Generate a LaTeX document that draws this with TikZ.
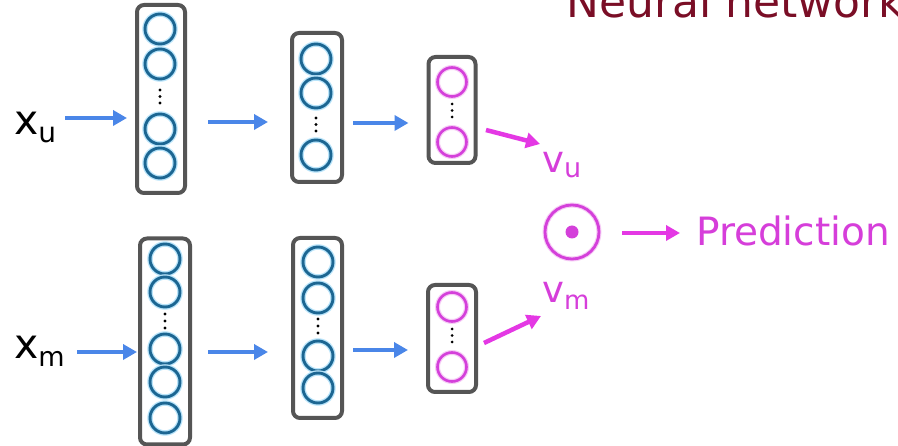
\documentclass[tikz,border=0pt]{standalone}
\usepackage{fontspec}
\setmainfont{DejaVu Sans}
\usetikzlibrary{arrows.meta}
\definecolor{nblue}{RGB}{28,102,146}
\definecolor{nglow}{RGB}{185,228,250}
\definecolor{nmag}{RGB}{212,64,218}
\definecolor{mglow}{RGB}{246,204,246}
\definecolor{abl}{RGB}{74,134,232}
\definecolor{amag}{RGB}{228,56,228}
\definecolor{tmag}{RGB}{214,62,218}
\definecolor{boxg}{RGB}{85,85,85}
\definecolor{tred}{RGB}{122,14,38}
\begin{document}
\begin{tikzpicture}[x=1pt,y=-1pt,
  layerbox/.style={draw=boxg, line width=4pt, rounded corners=7pt, inner sep=0pt, outer sep=0pt},
  bneuron/.style={circle, draw=nblue, line width=2.9pt, minimum size=30pt, inner sep=0pt,
                  preaction={draw=nglow, line width=5.5pt}},
  mneuron/.style={circle, draw=nmag, line width=2.6pt, minimum size=29pt, inner sep=0pt,
                  preaction={draw=mglow, line width=5pt}},
  barrow/.style={draw=abl, line width=4.5pt, -{Triangle[length=14pt,width=15pt]}},
  marrow/.style={draw=amag, line width=4.5pt, -{Triangle[length=14pt,width=15pt]}},
  vdot/.style={fill=black},
  lbl/.style={anchor=base west, inner sep=0pt},
]
\useasboundingbox (0,0) rectangle (898,446);
\fill[white] (0,0) rectangle (898,446);
\clip (0,0) rectangle (898,446);

% title (cut off at top and right, as in the reference)
\node[lbl, text=tred, font=\fontsize{44}{50}\selectfont] (title) at (566,18) {Neural network};

% ---------- top tower ----------
\node[layerbox, minimum width=48pt, minimum height=188pt] (b1) at (161,99) {};
\foreach \y [count=\i] in {29,64,129,163} \node[bneuron] (b1n\i) at (160,\y) {};
\foreach \d in {90,96.5,103} \fill[vdot] (160,\d) circle (1.6);

\node[layerbox, minimum width=50pt, minimum height=149pt] (b2) at (317,107.5) {};
\foreach \y [count=\i] in {59,93,155} \node[bneuron] (b2n\i) at (316,\y) {};
\foreach \d in {118,124.5,131} \fill[vdot] (316,\d) circle (1.6);

\node[layerbox, minimum width=47pt, minimum height=106pt] (b3) at (452,110) {};
\foreach \y [count=\i] in {82,142} \node[mneuron] (b3n\i) at (452,\y) {};
\foreach \d in {104,110.5,117} \fill[vdot] (452,\d) circle (1.5);

% ---------- bottom tower ----------
\node[layerbox, minimum width=50pt, minimum height=206pt] (b4) at (165,341.5) {};
\foreach \y [count=\i] in {259,292,349,382,418} \node[bneuron] (b4n\i) at (165,\y) {};
\foreach \d in {314,321,328} \fill[vdot] (165,\d) circle (1.6);

\node[layerbox, minimum width=49pt, minimum height=180pt] (b5) at (317.5,328) {};
\foreach \y [count=\i] in {262,298,356,388} \node[bneuron] (b5n\i) at (318,\y) {};
\foreach \d in {319,326,333} \fill[vdot] (318,\d) circle (1.6);

\node[layerbox, minimum width=48pt, minimum height=107pt] (b6) at (452,338.5) {};
\foreach \y [count=\i] in {307,367} \node[mneuron] (b6n\i) at (452,\y) {};
\foreach \d in {329,335.5,342} \fill[vdot] (452,\d) circle (1.5);

% ---------- labels ----------
\node[lbl, font=\fontsize{41}{48}\selectfont] (xu) at (14,135)
  {x\raisebox{-8pt}{\fontsize{28}{32}\selectfont u}};
\node[lbl, font=\fontsize{41}{48}\selectfont] (xm) at (14,359)
  {x\raisebox{-8pt}{\fontsize{27}{32}\selectfont m}};
\node[lbl, text=tmag, font=\fontsize{37}{44}\selectfont] (vu) at (542,173)
  {v\raisebox{-5pt}{\fontsize{27}{32}\selectfont u}};
\node[lbl, text=tmag, font=\fontsize{37}{44}\selectfont] (vm) at (542,303)
  {v\raisebox{-7pt}{\fontsize{26}{32}\selectfont m}};

\node[circle, draw=nmag, line width=2.8pt, minimum size=54pt, inner sep=0pt,
      preaction={draw=mglow, line width=5pt}] (dot) at (572,232) {};
\fill[nmag] (dot.center) circle (6.5);

\node[lbl, text=tmag, font=\fontsize{39}{46}\selectfont] (pred) at (696,246) {Prediction};

% ---------- connectors ----------
\coordinate (a1s) at (65,118);
\coordinate (a2s) at (208,122);
\coordinate (a3s) at (353,123);
\coordinate (a4s) at (77,352);
\coordinate (a5s) at (208,352);
\coordinate (a6s) at (353,350);
\draw[barrow, shorten >=10pt] (a1s) -- (a1s -| b1.west);
\draw[barrow, shorten >=24pt] (a2s) -- (a2s -| b2.west);
\draw[barrow, shorten >=20pt] (a3s) -- (a3s -| b3.west);
\draw[barrow, shorten >=3pt]  (a4s) -- (a4s -| b4.west);
\draw[barrow, shorten >=25pt] (a5s) -- (a5s -| b5.west);
\draw[barrow, shorten >=20pt] (a6s) -- (a6s -| b6.west);

\coordinate (m1s) at (486,130);
\coordinate (m1e) at (540,144);
\coordinate (m2s) at (484,343);
\coordinate (m2e) at (541,316);
\draw[marrow] (m1s) -- (m1e);
\draw[marrow] (m2s) -- (m2e);
\coordinate (m3s) at (622,233);
\draw[marrow, shorten >=16pt] (m3s) -- (m3s -| pred.west);
\end{tikzpicture}
\end{document}
